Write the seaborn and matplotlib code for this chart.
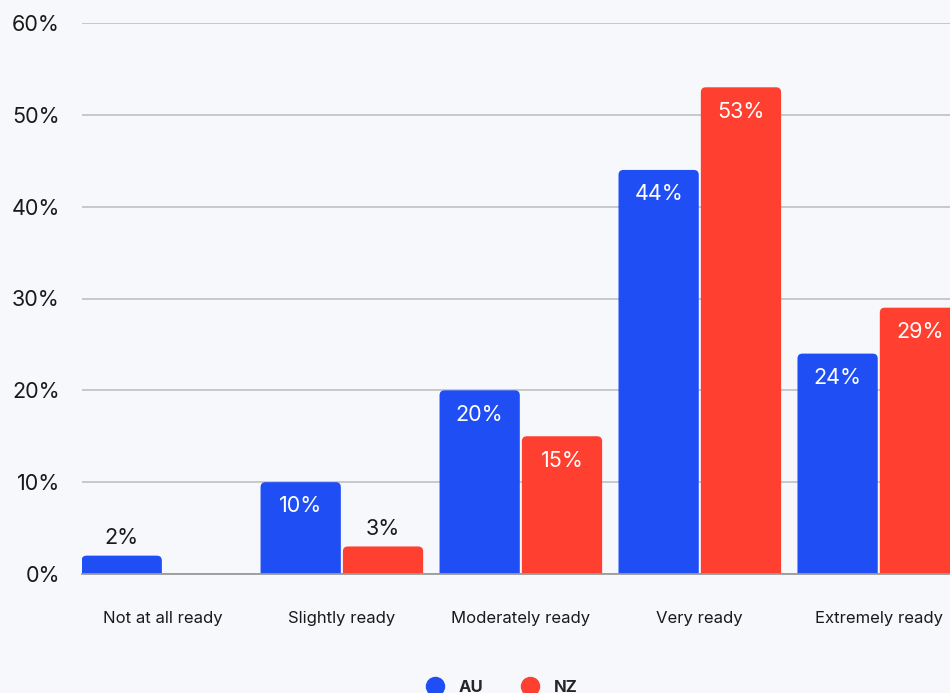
import matplotlib
matplotlib.use("Agg")
import matplotlib.pyplot as plt
import seaborn as sns
import pandas as pd
from matplotlib.patches import FancyBboxPatch, Rectangle
from matplotlib.lines import Line2D

categories = ["Not at all ready", "Slightly ready", "Moderately ready", "Very ready", "Extremely ready"]
au_values = [2, 10, 20, 44, 24]
nz_values = [0, 3, 15, 53, 29]
series = ["AU", "NZ"]
y_ticks = [0, 10, 20, 30, 40, 50, 60]

BG = "#f7f8fc"
colors = {"AU": "#1f4ef5", "NZ": "#ff3f30"}

sns.set_theme(style="white")
plt.rcParams['font.family'] = ['Inter', 'DejaVu Sans']

df = pd.DataFrame({
    "category": categories * 2,
    "series": ["AU"] * len(categories) + ["NZ"] * len(categories),
    "value": au_values + nz_values,
})

W, H = 950, 693
fig = plt.figure(figsize=(W / 100, H / 100), dpi=100, facecolor=BG)
ax_left, ax_bottom, ax_top = 82, 574, 23
ax = fig.add_axes([ax_left / W, (H - ax_bottom) / H, 1 - ax_left / W, (ax_bottom - ax_top) / H])
ax.set_facecolor(BG)

sns.barplot(data=df, x="category", y="value", hue="series", order=categories,
            hue_order=series, palette=colors, width=0.92, gap=0.025, saturation=1,
            legend=False, ax=ax, zorder=3)

xlim = (-0.452, 4.398)
ax.set_xlim(*xlim)
ax.set_ylim(0, 60)

# rounded top corners
px_w = W - ax_left
px_h = ax_bottom - ax_top
rx = 5 * (xlim[1] - xlim[0]) / px_w
ry = 5 * 60 / px_h
for p in list(ax.patches):
    if not isinstance(p, Rectangle):
        continue
    x, y = p.get_x(), p.get_y()
    w, h = p.get_width(), p.get_height()
    fc = p.get_facecolor()
    p.remove()
    if h <= 0:
        continue
    fb = FancyBboxPatch((x, y - ry), w, h + ry,
                        boxstyle=f"round,pad=0,rounding_size={rx}",
                        mutation_aspect=ry / rx, facecolor=fc, edgecolor="none", zorder=3)
    ax.add_patch(fb)

# value labels
for s_idx, (name, vals) in enumerate(zip(series, [au_values, nz_values])):
    offset = -0.23 if s_idx == 0 else 0.23
    for i, v in enumerate(vals):
        if v <= 0:
            continue
        xc = i + offset
        if v < 5:
            ax.annotate(f"{v}%", (xc, v), xytext=(0, 12.5), textcoords="offset points",
                        ha="center", va="center", fontsize=15.5, color="#1a1a1a", zorder=5)
        else:
            ax.annotate(f"{v}%", (xc, v), xytext=(0, -17.5), textcoords="offset points",
                        ha="center", va="center", fontsize=15.5, color="white", zorder=5)

ax.set_yticks(y_ticks)
ax.set_yticklabels([f"{t}%" for t in y_ticks], fontsize=15.5, color="#1a1a1a")
ax.tick_params(axis="y", length=0, pad=16)
ax.tick_params(axis="x", length=0, pad=27, labelsize=12, labelcolor="#1a1a1a")
ax.set_xlabel("")
ax.set_ylabel("")
ax.yaxis.grid(True, color="#c4c4c4", lw=1.3, zorder=0)
ax.set_axisbelow(True)
for side in ["top", "right", "left"]:
    ax.spines[side].set_visible(False)
ax.spines["bottom"].set_color("#9a9a9a")
ax.spines["bottom"].set_linewidth(1.3)
ax.spines["bottom"].set_zorder(4)

handles = [Line2D([], [], marker="o", linestyle="", markersize=13,
                  markerfacecolor=colors[s], markeredgecolor=colors[s]) for s in series]
fig.legend(handles, series, loc="center", bbox_to_anchor=(498 / W, 6 / H), ncol=2,
           frameon=False, prop={"weight": "bold", "size": 12}, handletextpad=0.4,
           columnspacing=1.8)

fig.savefig("out.png", dpi=100, facecolor=BG)
